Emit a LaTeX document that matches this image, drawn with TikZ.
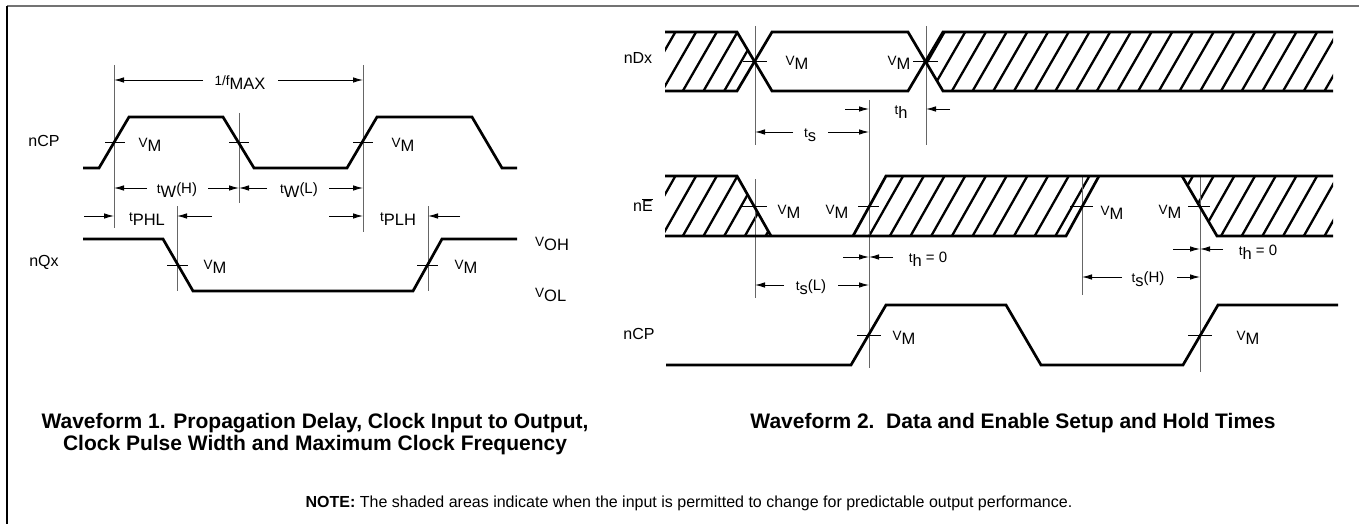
\documentclass[tikz,border=0pt]{standalone}
\usepackage{fontspec}
\setmainfont{Liberation Sans}
\usetikzlibrary{arrows.meta}
\newcommand\sm[1]{{\fontsize{13.5}{13.5}\selectfont #1}}
\newcommand\lo[1]{\raisebox{-4pt}{\fontsize{16.5}{16.5}\selectfont #1}}
\newcommand\nm[1]{{\fontsize{15}{15}\selectfont #1}}
\newcommand\hatchreg[3]{%
  \begin{scope}
    \clip #1;
    \foreach \k in {0,...,39}{\draw[hatch] ({600+20.7*\k},#3) -- ({634+20.7*\k},#2);}
  \end{scope}}
\begin{document}
\begin{tikzpicture}[x=1pt,y=-1pt,
  sig/.style={line width=2.7pt},
  refl/.style={line width=0.9pt,draw=black!60},
  tick/.style={line width=0.9pt},
  dim/.style={line width=0.9pt,-{Latex[length=10pt,width=5.5pt]}},
  hatch/.style={line width=2.3pt},
  lbl/.style={inner sep=0pt,font=\fontsize{16}{16}\selectfont},
  captxt/.style={inner sep=0pt,anchor=base,font=\fontsize{21}{21}\selectfont\bfseries}]
\useasboundingbox (0,0) rectangle (1359,524);
% frame
\draw[line width=2pt,black!55] (7,6) -- (1359,6);
\draw[line width=2pt] (7,6) -- (7,524);

% ================= Waveform 1 =================
\node[lbl] (lcp) at (44,141) {nCP};
\node[lbl] (lqx) at (44,262) {nQx};
% reference verticals
\draw[refl] (114,65) -- (114,228);
\draw[refl] (239,113) -- (239,203);
\draw[refl] (363,65) -- (363,232);
\draw[refl] (177,206) -- (177,291);
\draw[refl] (428,206) -- (428,291);
% signals
\draw[sig] (83,168) -- (99,168) -- (129,117) -- (223,117) -- (254,168) -- (347,168) -- (377,117) -- (472,117) -- (502,168) -- (517,168);
\draw[sig] (83,239) -- (163,239) -- (193,291) -- (413,291) -- (442,239) -- (517,239);
% ticks
\draw[tick] (105,142) -- (125,142);
\draw[tick] (229,142) -- (249,142);
\draw[tick] (353,142) -- (373,142);
\draw[tick] (167,265) -- (188,265);
\draw[tick] (417,265) -- (438,265);
% labels
\node[lbl] (vm1) at (150,145) {\sm{V}\lo{M}};
\node[lbl] (vm2) at (403,145) {\sm{V}\lo{M}};
\node[lbl] (vm3) at (215,267) {\sm{V}\lo{M}};
\node[lbl] (vm4) at (466,267) {\sm{V}\lo{M}};
\node[lbl,anchor=west] (voh) at (535,244) {\sm{V}\lo{OH}};
\node[lbl,anchor=west] (vol) at (535,295) {\sm{V}\lo{OL}};
\node[lbl] (fmax) at (240,83) {\sm{1/f}\lo{MAX}};
\node[lbl] (twh) at (177,190) {\sm{t}\lo{W}\nm{(H)}};
\node[lbl] (twl) at (299,190) {\sm{t}\lo{W}\nm{(L)}};
\node[lbl] (tphl) at (147,219) {\sm{t}\lo{PHL}};
\node[lbl] (tplh) at (398,219) {\sm{t}\lo{PLH}};
% dimension arrows
\draw[dim] (203,80) -- (114,80);
\draw[dim] (278,80) -- (363,80);
\draw[dim] (147,188) -- (114,188);
\draw[dim] (208,188) -- (239,188);
\draw[dim] (267,188) -- (239,188);
\draw[dim] (329,188) -- (363,188);
\draw[dim] (84,216) -- (114,216);
\draw[dim] (212,216) -- (177,216);
\draw[dim] (329,216) -- (363,216);
\draw[dim] (460,216) -- (428,216);

% ================= Waveform 2 =================
\node[lbl] (rdx) at (638,58) {nDx};
\node[lbl] (re) at (643,205) {n$\overline{\mbox{E}}$};
\node[lbl] (rcp) at (639,334) {nCP};
% hatched areas
\hatchreg{(665,32) -- (737,32) -- (754.5,61.5) -- (737,91) -- (665,91) -- cycle}{32}{91}
\hatchreg{(925.5,61.5) -- (943,32) -- (1333,32) -- (1333,91) -- (943,91) -- cycle}{32}{91}
\hatchreg{(665,176) -- (737,176) -- (771,236) -- (665,236) -- cycle}{176}{236}
\hatchreg{(853,236) -- (886,176) -- (1099,176) -- (1066,236) -- cycle}{176}{236}
\hatchreg{(1182,176) -- (1333,176) -- (1333,236) -- (1217,236) -- cycle}{176}{236}
% reference verticals
\draw[refl] (755,26) -- (755,145);
\draw[refl] (926,26) -- (926,145);
\draw[refl] (869,100) -- (869,368);
\draw[refl] (755,179) -- (755,298);
\draw[refl] (1082,175) -- (1082,295);
\draw[refl] (1200,175) -- (1200,372);
% signals
\draw[sig] (665,32) -- (737,32) -- (772,91) -- (908,91) -- (943,32) -- (1333,32);
\draw[sig] (665,91) -- (737,91) -- (772,32) -- (908,32) -- (943,91) -- (1333,91);
\draw[sig] (665,176) -- (737,176) -- (771,236);
\draw[sig] (665,236) -- (1066,236) -- (1099,176);
\draw[sig] (853,236) -- (886,176) -- (1333,176);
\draw[sig] (1182,176) -- (1217,236) -- (1333,236);
\draw[sig] (666,365) -- (851,365) -- (886,305) -- (1006,305) -- (1041,365) -- (1183,365) -- (1218,305) -- (1338,305);
% ticks
\draw[tick] (743,61.5) -- (767,61.5);
\draw[tick] (913,61.5) -- (938,61.5);
\draw[tick] (742,206) -- (767,206);
\draw[tick] (858,206) -- (879,206);
\draw[tick] (1070,206) -- (1093,206);
\draw[tick] (1188,206) -- (1210,206);
\draw[tick] (857,335) -- (881,335);
\draw[tick] (1188,335) -- (1212,335);
% labels
\node[lbl] (dvm1) at (797,63) {\sm{V}\lo{M}};
\node[lbl] (dvm2) at (899,63) {\sm{V}\lo{M}};
\node[lbl] (evm1) at (789,212) {\sm{V}\lo{M}};
\node[lbl] (evm2) at (837,212) {\sm{V}\lo{M}};
\node[lbl] (evm3) at (1112,213) {\sm{V}\lo{M}};
\node[lbl] (evm4) at (1170,212) {\sm{V}\lo{M}};
\node[lbl] (cvm1) at (904,338) {\sm{V}\lo{M}};
\node[lbl] (cvm2) at (1248,338) {\sm{V}\lo{M}};
\node[lbl] (th) at (901,112) {\sm{t}\lo{h}};
\node[lbl] (ts) at (810,135) {\sm{t}\lo{s}};
\node[lbl] (th0a) at (928,259) {\sm{t}\lo{h}\nm{ = 0}};
\node[lbl] (tsl) at (811,287) {\sm{t}\lo{s}\nm{(L)}};
\node[lbl] (th0b) at (1258,252) {\sm{t}\lo{h}\nm{ = 0}};
\node[lbl] (tsh) at (1148,279) {\sm{t}\lo{s}\nm{(H)}};
% dimension arrows
\draw[dim] (845,109) -- (869,109);
\draw[dim] (950,109) -- (926,109);
\draw[dim] (793,132) -- (755,132);
\draw[dim] (828,132) -- (869,132);
\draw[dim] (843,257) -- (869,257);
\draw[dim] (893,257) -- (869,257);
\draw[dim] (784,285) -- (755,285);
\draw[dim] (838,285) -- (869,285);
\draw[dim] (1173,249) -- (1200,249);
\draw[dim] (1223,249) -- (1200,249);
\draw[dim] (1122,277) -- (1082,277);
\draw[dim] (1177,277) -- (1200,277);

% captions
\node[captxt] (c1a) at (315,428) {Waveform 1. Propagation Delay, Clock Input to Output,};
\node[captxt] (c1b) at (315,450) {Clock Pulse Width and Maximum Clock Frequency};
\node[captxt] (c2) at (1013,428) {Waveform 2.\ \ Data and Enable Setup and Hold Times};
\node[inner sep=0pt,font=\fontsize{16}{16}\selectfont] (note) at (689,503) {\textbf{NOTE:} The shaded areas indicate when the input is permitted to change for predictable output performance.};
\end{tikzpicture}
\end{document}
